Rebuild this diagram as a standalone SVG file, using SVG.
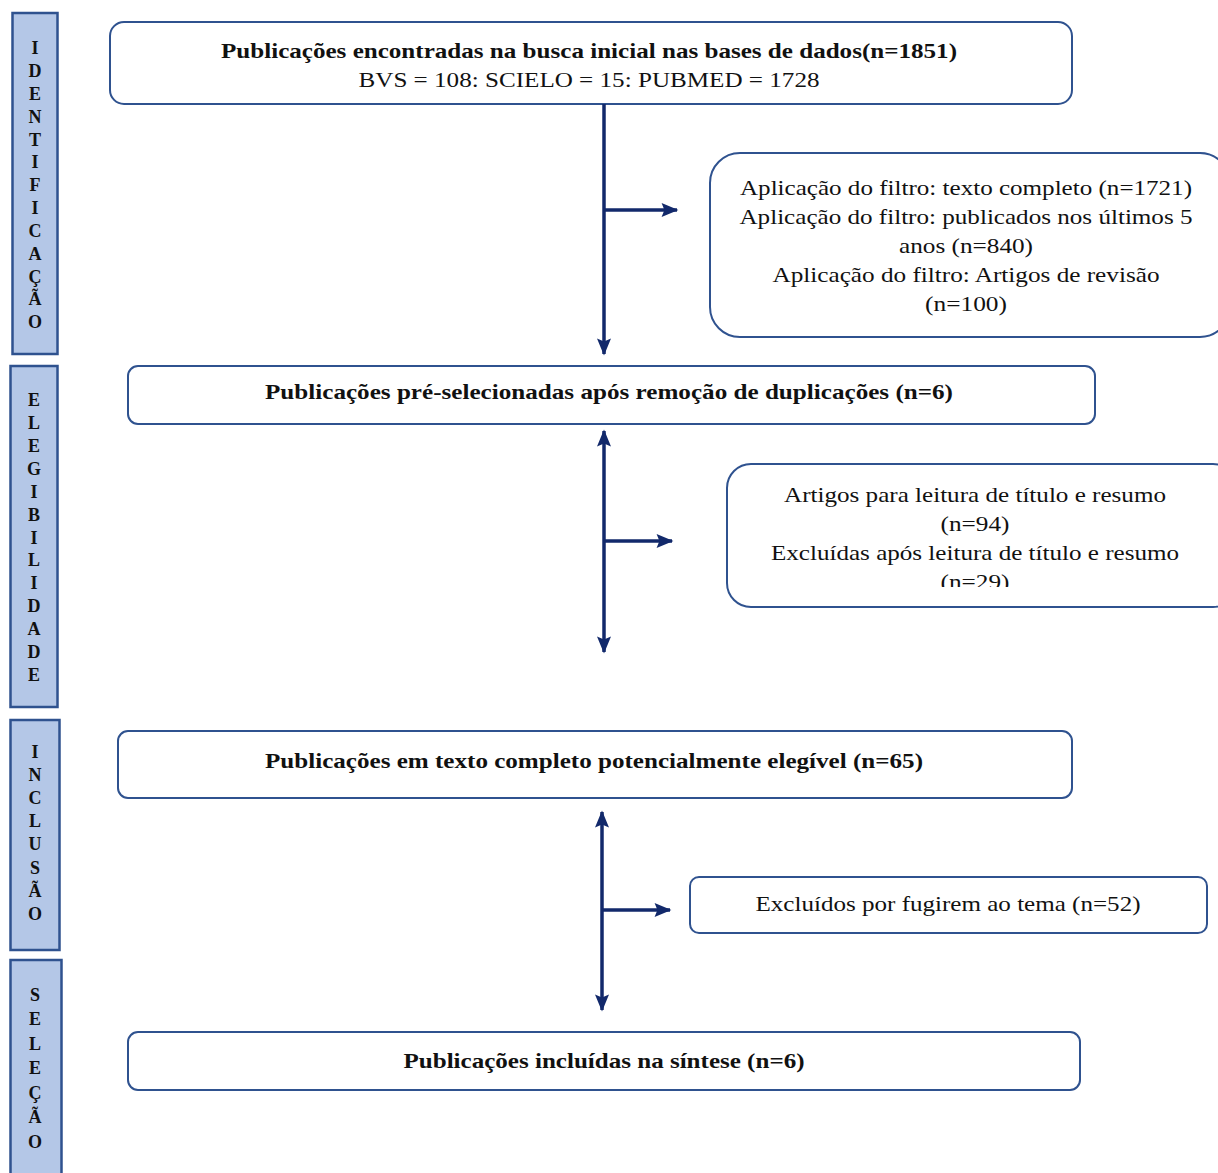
<svg xmlns="http://www.w3.org/2000/svg" width="1218" height="1173" viewBox="0 0 1218 1173">
<defs>
<style>
.side{fill:#b4c7e7;stroke:#2f528f;stroke-width:2.5}
.sl{font-family:"Liberation Serif",serif;font-weight:bold;font-size:18px;fill:#111;text-anchor:middle}
.box{fill:#fff;stroke:#2f528f;stroke-width:2}
.t{font-family:"Liberation Serif",serif;font-size:21px;fill:#111;text-anchor:middle}
.b{font-weight:bold}
.conn line{stroke:#12296b;stroke-width:3.5}
</style>
<marker id="ah" viewBox="0 0 12 10" refX="11" refY="5" markerWidth="5" markerHeight="4" orient="auto-start-reverse" markerUnits="strokeWidth">
<path d="M0,0 L12,5 L0,10 L2,5 Z" fill="#12296b"/>
</marker>
<clipPath id="clip4"><rect x="727" y="464" width="491" height="123"/></clipPath>
</defs>
<rect width="1218" height="1173" fill="#fff"/>

<g id="side-identificacao">
<rect class="side" x="12.5" y="13" width="45" height="341"/>
<text class="sl">
<tspan x="35" y="54">I</tspan><tspan x="35" y="77">D</tspan><tspan x="35" y="100">E</tspan><tspan x="35" y="123">N</tspan><tspan x="35" y="146">T</tspan><tspan x="35" y="168">I</tspan><tspan x="35" y="191">F</tspan><tspan x="35" y="214">I</tspan><tspan x="35" y="237">C</tspan><tspan x="35" y="260">A</tspan><tspan x="35" y="283">Ç</tspan><tspan x="35" y="305">Ã</tspan><tspan x="35" y="328">O</tspan>
</text>
</g>

<g id="side-elegibilidade">
<rect class="side" x="10.5" y="366" width="47" height="341"/>
<text class="sl">
<tspan x="34" y="406">E</tspan><tspan x="34" y="429">L</tspan><tspan x="34" y="452">E</tspan><tspan x="34" y="475">G</tspan><tspan x="34" y="498">I</tspan><tspan x="34" y="521">B</tspan><tspan x="34" y="544">I</tspan><tspan x="34" y="566">L</tspan><tspan x="34" y="589">I</tspan><tspan x="34" y="612">D</tspan><tspan x="34" y="635">A</tspan><tspan x="34" y="658">D</tspan><tspan x="34" y="681">E</tspan>
</text>
</g>

<g id="side-inclusao">
<rect class="side" x="10.5" y="720" width="49" height="230"/>
<text class="sl">
<tspan x="35" y="758">I</tspan><tspan x="35" y="781">N</tspan><tspan x="35" y="804">C</tspan><tspan x="35" y="827">L</tspan><tspan x="35" y="850">U</tspan><tspan x="35" y="874">S</tspan><tspan x="35" y="897">Ã</tspan><tspan x="35" y="920">O</tspan>
</text>
</g>

<g id="side-selecao">
<rect class="side" x="10.5" y="960" width="51" height="225"/>
<text class="sl">
<tspan x="35" y="1001">S</tspan><tspan x="35" y="1025">E</tspan><tspan x="35" y="1050">L</tspan><tspan x="35" y="1074">E</tspan><tspan x="35" y="1099">Ç</tspan><tspan x="35" y="1123">Ã</tspan><tspan x="35" y="1148">O</tspan>
</text>
</g>

<g id="node-busca">
<rect class="box" x="110" y="22" width="962" height="82" rx="14"/>
<text class="t b" x="589" y="58" textLength="736" lengthAdjust="spacingAndGlyphs">Publicações encontradas na busca inicial nas bases de dados(n=1851)</text>
<text class="t" x="589" y="87" textLength="461" lengthAdjust="spacingAndGlyphs">BVS = 108: SCIELO = 15: PUBMED = 1728</text>
</g>

<g id="node-filtros">
<rect class="box" x="710" y="153" width="520" height="184" rx="30"/>
<text class="t" x="966" y="195" textLength="452" lengthAdjust="spacingAndGlyphs">Aplicação do filtro: texto completo (n=1721)</text>
<text class="t" x="966" y="224" textLength="453" lengthAdjust="spacingAndGlyphs">Aplicação do filtro: publicados nos últimos 5</text>
<text class="t" x="966" y="253" textLength="134" lengthAdjust="spacingAndGlyphs">anos (n=840)</text>
<text class="t" x="966" y="282" textLength="387" lengthAdjust="spacingAndGlyphs">Aplicação do filtro: Artigos de revisão</text>
<text class="t" x="966" y="311" textLength="82" lengthAdjust="spacingAndGlyphs">(n=100)</text>
</g>

<g id="node-preselecionadas">
<rect class="box" x="128" y="366" width="967" height="58" rx="10"/>
<text class="t b" x="609" y="399" textLength="688" lengthAdjust="spacingAndGlyphs">Publicações pré-selecionadas após remoção de duplicações (n=6)</text>
</g>

<g id="node-leitura">
<rect class="box" x="727" y="464" width="510" height="143" rx="24"/>
<g clip-path="url(#clip4)">
<text class="t" x="975" y="502" textLength="382" lengthAdjust="spacingAndGlyphs">Artigos para leitura de título e resumo</text>
<text class="t" x="975" y="531" textLength="69" lengthAdjust="spacingAndGlyphs">(n=94)</text>
<text class="t" x="975" y="560" textLength="408" lengthAdjust="spacingAndGlyphs">Excluídas após leitura de título e resumo</text>
<text class="t" x="975" y="589" textLength="69" lengthAdjust="spacingAndGlyphs">(n=29)</text>
</g>
</g>

<g id="node-elegivel">
<rect class="box" x="118" y="731" width="954" height="67" rx="10"/>
<text class="t b" x="594" y="768" textLength="658" lengthAdjust="spacingAndGlyphs">Publicações em texto completo potencialmente elegível (n=65)</text>
</g>

<g id="node-excluidos">
<rect class="box" x="690" y="877" width="517" height="56" rx="9"/>
<text class="t" x="948" y="911" textLength="385" lengthAdjust="spacingAndGlyphs">Excluídos por fugirem ao tema (n=52)</text>
</g>

<g id="node-incluidas">
<rect class="box" x="128" y="1032" width="952" height="58" rx="10"/>
<text class="t b" x="604" y="1068" textLength="401" lengthAdjust="spacingAndGlyphs">Publicações incluídas na síntese (n=6)</text>
</g>

<g id="connectors" class="conn">
<line x1="604" y1="104" x2="604" y2="354" marker-end="url(#ah)"/>
<line x1="604" y1="210" x2="677" y2="210" marker-end="url(#ah)"/>
<line x1="604" y1="431" x2="604" y2="652" marker-start="url(#ah)" marker-end="url(#ah)"/>
<line x1="604" y1="541" x2="672" y2="541" marker-end="url(#ah)"/>
<line x1="602" y1="812" x2="602" y2="1010" marker-start="url(#ah)" marker-end="url(#ah)"/>
<line x1="602" y1="910" x2="670" y2="910" marker-end="url(#ah)"/>
</g>
</svg>
